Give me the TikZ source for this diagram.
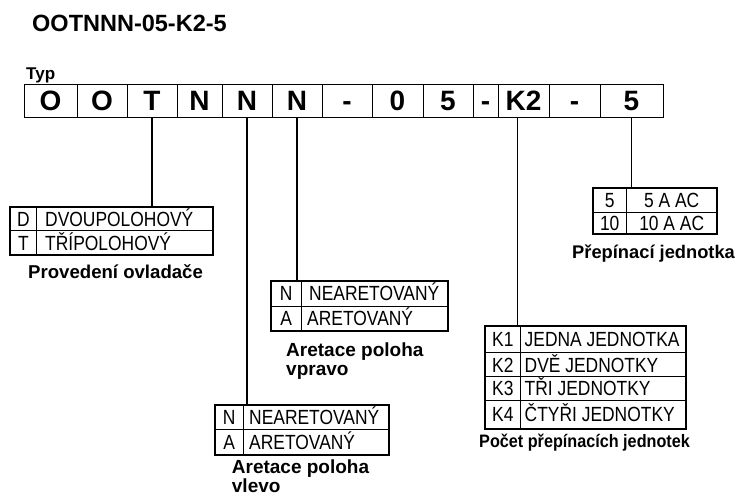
\documentclass[tikz,border=0pt]{standalone}
\usepackage{fontspec}
\setmainfont{Liberation Sans}
\newfontfamily\narrowfont[FakeStretch=0.85]{Liberation Sans}
\newfontfamily\labnarrowfont[FakeStretch=0.9]{Liberation Sans}

\tikzset{
  cell/.style={draw=black, line width=0.9pt, minimum height=33pt, inner sep=0pt,
    text height=20pt, text depth=0pt, font=\bfseries\fontsize{28}{28}\selectfont},
  tabbox/.style={draw=black, line width=2.2pt, inner sep=0pt},
  tabline/.style={black, line width=0.8pt},
  tabtext/.style={inner sep=0pt, text height=14.7pt, text depth=0pt,
    font=\narrowfont\fontsize{20.5}{20.5}\selectfont},
  tabtextw/.style={tabtext, anchor=west},
  lab/.style={inner sep=0pt, anchor=base west, align=left,
    font=\bfseries\fontsize{19}{19.5}\selectfont},
  link/.style={black, line width=1.1pt}
}

\begin{document}
\begin{tikzpicture}[x=1pt,y=-1pt]
\useasboundingbox (0,0) rectangle (735,497);
%%%%%%%%% title
\node[inner sep=0pt, anchor=base west, font=\bfseries\fontsize{23.5}{23.5}\selectfont]
  (title) at (32,31.7) {OOTNNN-05-K2-5};
\node[inner sep=0pt, anchor=base west, font=\bfseries\fontsize{17}{17}\selectfont]
  (typ) at (26,80) {Typ};

%%%%%%%%% type code row
\foreach \l/\r/\t [count=\i] in {24/77/O, 77/127/O, 127/177/T, 177/222/N, 222/272/N,
    272/322/N, 322/372/-, 372/423/0, 423/473/5, 473/498/-, 498/549/K2, 549/600/-, 600/663/5}
  \node[cell, minimum width={\r-\l}] (c\i) at ({(\l+\r)/2},100.5) {\t};

%%%%%%%%% table D/T
\node[tabbox, minimum width=203.3, minimum height=48.3] (tabD) at (111.65,230.85) {};
\draw[tabline] (10,230.7) -- (213.3,230.7);
\draw[tabline] (36.7,206.7) -- (36.7,255);
\node[tabtext] (tD1) at (23.35,218.7) {D};
\node[tabtextw] (tD2) at (45,218.7) {DVOUPOLOHOVÝ};
\node[tabtext] (tT1) at (23.35,242.85) {T};
\node[tabtextw] (tT2) at (45,242.85) {TŘÍPOLOHOVÝ};
\node[lab, font=\bfseries\fontsize{18.6}{19}\selectfont] (labD) at (28,278) {Provedení ovladače};

%%%%%%%%% table N/A vpravo
\node[tabbox, minimum width=177.6, minimum height=50.3] (tabNR) at (359.5,305.85) {};
\draw[tabline] (270.7,306) -- (448.3,306);
\draw[tabline] (301.7,280.7) -- (301.7,331);
\node[tabtext] (tNR1) at (286.2,293.35) {N};
\node[tabtextw] (tNR2) at (309,293.35) {NEARETOVANÝ};
\node[tabtext] (tAR1) at (286.2,318.5) {A};
\node[tabtextw] (tAR2) at (307,318.5) {ARETOVANÝ};
% base of the last line
\node[lab] (labNR) at (286,375.5) {Aretace poloha\\vpravo};

%%%%%%%%% table N/A vlevo
\node[tabbox, minimum width=174, minimum height=50] (tabNL) at (302,430) {};
\draw[tabline] (215,429.3) -- (389,429.3);
\draw[tabline] (243.3,405) -- (243.3,455);
\node[tabtext] (tNL1) at (229.15,417.15) {N};
\node[tabtextw] (tNL2) at (249,417.15) {NEARETOVANÝ};
\node[tabtext] (tAL1) at (229.15,442.15) {A};
\node[tabtextw] (tAL2) at (249,442.15) {ARETOVANÝ};
\node[lab, font=\bfseries\fontsize{19}{17.5}\selectfont] (labNL) at (231.7,492.5) {Aretace poloha\\vlevo};

%%%%%%%%% table K
\node[tabbox, minimum width=201, minimum height=103] (tabK) at (585.5,377.5) {};
\foreach \y in {352.7,376.7,400}
  \draw[tabline] (485,\y) -- (686,\y);
\draw[tabline] (520.7,326) -- (520.7,429);
\foreach \y/\k/\t in {339.35/K1/JEDNA JEDNOTKA, 364.7/K2/DVĚ JEDNOTKY,
    388.35/K3/TŘI JEDNOTKY, 414.5/K4/ČTYŘI JEDNOTKY}{
  \node[tabtext] (t\k) at (502.85,\y) {\k};
  \node[tabtextw] (t\k t) at (524.5,\y) {\t};
}
\node[lab, font=\labnarrowfont\bfseries\fontsize{18}{18}\selectfont] (labK) at (479,447.3)
  {Počet přepínacích jednotek};

%%%%%%%%% table current
\node[tabbox, minimum width=124, minimum height=46] (tabI) at (654.7,211.3) {};
\draw[tabline] (592.7,212.3) -- (716.7,212.3);
\draw[tabline] (626.7,188.3) -- (626.7,234.3);
\node[tabtext] (tI1) at (609.7,200.3) {5};
\node[tabtext] (tI2) at (671.7,200.3) {5 A AC};
\node[tabtext] (tI3) at (609.7,223.3) {10};
\node[tabtext] (tI4) at (671.7,223.3) {10 A AC};
\node[lab, font=\bfseries\fontsize{18.3}{18.3}\selectfont] (labI) at (572,258) {Přepínací jednotka};

%%%%%%%%% links
\draw[link] (c3.south) -- (c3.south |- tabD.north);
\draw[link] (c5.south) -- (c5.south |- tabNL.north);
\draw[link] (c6.south) -- (c6.south |- tabNR.north);
\coordinate (kt) at ([xshift=-6pt]c11.south);
\draw[link] (kt) -- (kt |- tabK.north);
\draw[link] (c13.south) -- (c13.south |- tabI.north);
\end{tikzpicture}
\end{document}
